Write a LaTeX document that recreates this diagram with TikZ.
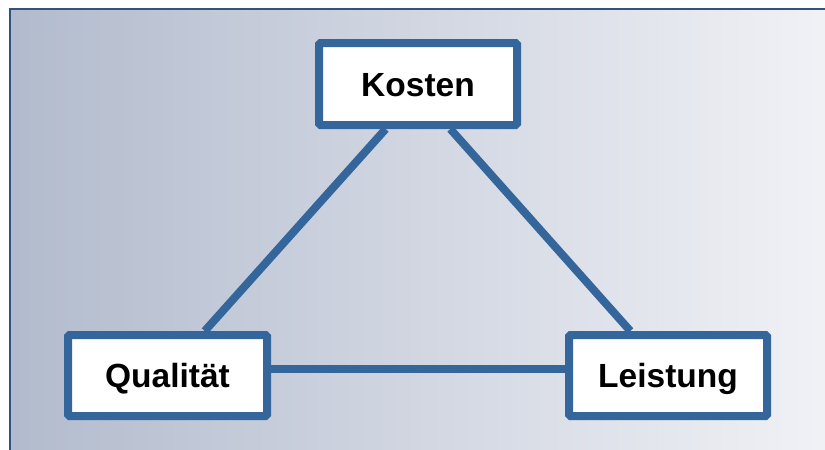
\documentclass[tikz,border=0pt]{standalone}
\usepackage{fontspec}
\setmainfont{Liberation Sans}
\usetikzlibrary{backgrounds,calc}
\definecolor{boxblue}{RGB}{52,102,156}
\definecolor{bgleft}{RGB}{178,187,205}
\definecolor{bgright}{RGB}{241,242,246}
\definecolor{frameblue}{RGB}{48,84,124}
\begin{document}
\begin{tikzpicture}[x=1pt,y=-1pt,
  termbox/.style={draw=boxblue, line width=8pt, fill=white, rounded corners=1.5pt,
    minimum width=198pt, minimum height=82pt, inner sep=0pt,
    font=\fontsize{33.5}{40}\selectfont\bfseries, text height=24pt, text depth=0pt},
  link/.style={draw=boxblue, line width=8pt}]
\useasboundingbox (0,0) rectangle (825,450);
\clip (0,0) rectangle (825,450);
\node[termbox] (k) at (418,84) {Kosten};
\node[termbox, minimum width=199pt, minimum height=81pt] (q) at (167.5,375.5) {Qualität};
\node[termbox, minimum height=81pt] (l) at (668,375.5) {Leistung};
\coordinate (kq) at ($(k.south west)!0.343!(k.south east)$);
\coordinate (kl) at ($(k.south west)!0.657!(k.south east)$);
\coordinate (qk) at ($(q.north west)!0.68!(q.north east)$);
\coordinate (lk) at ($(l.north west)!0.317!(l.north east)$);
\coordinate (ql) at ($(q.north east)!0.43!(q.south east)$);
\coordinate (lq) at ($(l.north west)!0.43!(l.south west)$);
\begin{scope}[on background layer]
  \shade[left color=bgleft, right color=bgright] (10,9) rectangle (835,460);
  \draw[frameblue, line width=1.5pt] (10,460) -- (10,9) -- (835,9);
  \draw[link] (kq) -- (qk);
  \draw[link] (kl) -- (lk);
  \draw[link] (ql) -- (lq);
\end{scope}
\end{tikzpicture}
\end{document}
